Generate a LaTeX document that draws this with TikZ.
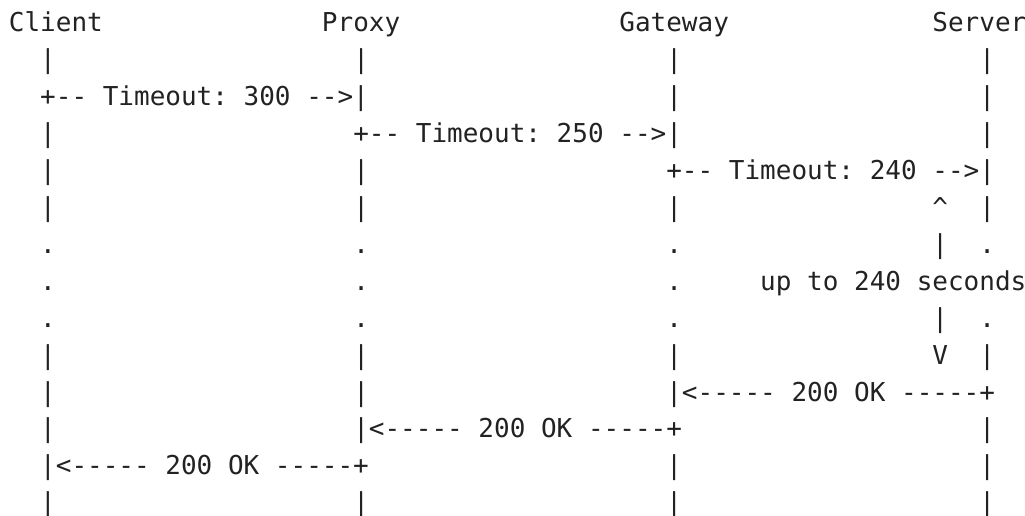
\documentclass[tikz,border=0pt]{standalone}
\usepackage{fontspec}
\newfontfamily\asciifont{DejaVu Sans Mono}
\newlength\chw
\setlength\chw{15.653pt}
\newcommand\cgap[1]{\hspace*{#1\chw}}
\definecolor{ink}{RGB}{34,34,34}
\tikzset{asciiline/.style={anchor=base west, inner sep=0pt, outer sep=0pt,
  font=\asciifont\fontsize{26}{31}\selectfont, text=ink}}
\begin{document}
\begin{tikzpicture}[x=1pt,y=-1pt]
\useasboundingbox (0,0) rectangle (1025,516);
\node[asciiline] (l0) at (8.9,32.0) {Client\cgap{14}Proxy\cgap{14}Gateway\cgap{13}Server};
\node[asciiline] (l1) at (8.9,68.9) {\cgap{2}|\cgap{19}|\cgap{19}|\cgap{19}|};
\node[asciiline] (l2) at (8.9,105.8) {\cgap{2}+--\cgap{1}Timeout:\cgap{1}300\cgap{1}-->|\cgap{19}|\cgap{19}|};
\node[asciiline] (l3) at (8.9,142.7) {\cgap{2}|\cgap{19}+--\cgap{1}Timeout:\cgap{1}250\cgap{1}-->|\cgap{19}|};
\node[asciiline] (l4) at (8.9,179.6) {\cgap{2}|\cgap{19}|\cgap{19}+--\cgap{1}Timeout:\cgap{1}240\cgap{1}-->|};
\node[asciiline] (l5) at (8.9,216.5) {\cgap{2}|\cgap{19}|\cgap{19}|\cgap{16}\textasciicircum\cgap{2}|};
\node[asciiline] (l6) at (8.9,253.4) {\cgap{2}.\cgap{19}.\cgap{19}.\cgap{16}|\cgap{2}.};
\node[asciiline] (l7) at (8.9,290.3) {\cgap{2}.\cgap{19}.\cgap{19}.\cgap{5}up\cgap{1}to\cgap{1}240\cgap{1}seconds};
\node[asciiline] (l8) at (8.9,327.2) {\cgap{2}.\cgap{19}.\cgap{19}.\cgap{16}|\cgap{2}.};
\node[asciiline] (l9) at (8.9,364.1) {\cgap{2}|\cgap{19}|\cgap{19}|\cgap{16}V\cgap{2}|};
\node[asciiline] (l10) at (8.9,401.0) {\cgap{2}|\cgap{19}|\cgap{19}|<-----\cgap{1}200\cgap{1}OK\cgap{1}-----+};
\node[asciiline] (l11) at (8.9,437.9) {\cgap{2}|\cgap{19}|<-----\cgap{1}200\cgap{1}OK\cgap{1}-----+\cgap{19}|};
\node[asciiline] (l12) at (8.9,474.8) {\cgap{2}|<-----\cgap{1}200\cgap{1}OK\cgap{1}-----+\cgap{19}|\cgap{19}|};
\node[asciiline] (l13) at (8.9,511.7) {\cgap{2}|\cgap{19}|\cgap{19}|\cgap{19}|};
\end{tikzpicture}
\end{document}
